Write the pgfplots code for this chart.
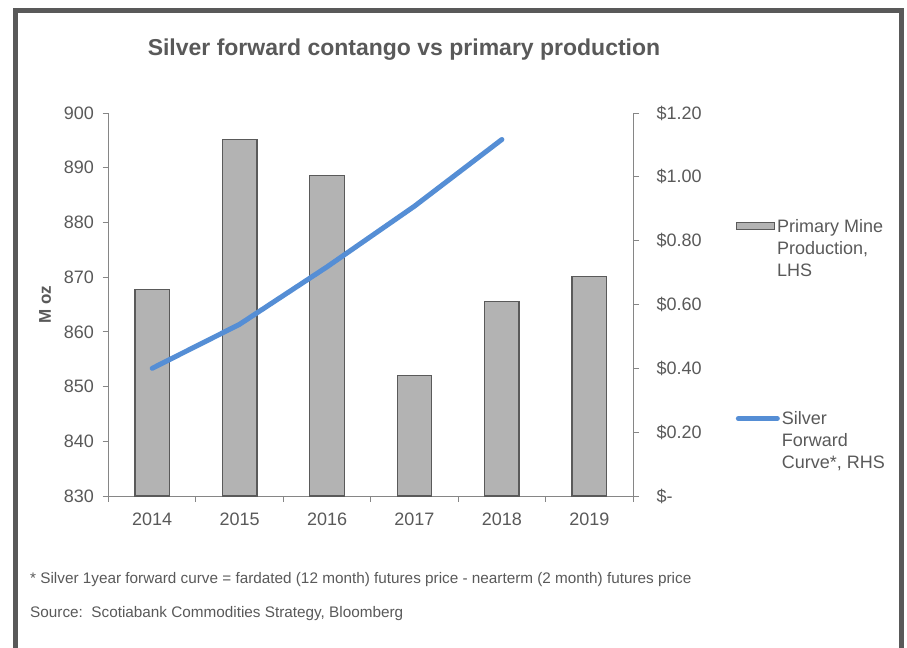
\documentclass[border=0pt]{standalone}
\usepackage{fontspec}
\setmainfont{Liberation Sans}
\usepackage{pgfplots}
\usepackage{pgfplotstable}
\pgfplotsset{compat=1.18}
\definecolor{txt}{HTML}{595959}
\definecolor{axgray}{HTML}{868686}
\definecolor{barfill}{HTML}{B3B3B3}
\definecolor{baredge}{HTML}{5A5A5A}
\definecolor{lineblue}{HTML}{558ED5}
\definecolor{framec}{HTML}{595959}

\pgfplotstableread{
x prod
0 867.8
1 895.1
2 888.6
3 852.0
4 865.5
5 870.1
}\prodtable
\pgfplotstableread{
x curve
0 0.400
1 0.538
2 0.718
3 0.908
4 1.117
}\curvetable

\pgfplotsset{
  common/.style={
    scale only axis, width=524.5bp, height=383bp,
    at={(108.5bp,152bp)}, anchor=south west,
    xmin=-0.5, xmax=5.5,
    axis line style={axgray, line width=0.9bp},
    tick style={axgray, line width=0.9bp},
    tick align=outside,
    major tick length=6bp, minor tick length=6bp,
    ticklabel style={text=txt, font=\fontsize{18bp}{21bp}\selectfont},
    /pgf/number format/assume math mode=true,
    clip=false,
  }
}

\begin{document}
\begin{tikzpicture}[font=\fontsize{18bp}{21bp}\selectfont]
\useasboundingbox (0,0) rectangle (907bp,648bp);
\begin{scope}
\clip (0,0) rectangle (907bp,648bp);
\draw[framec, line width=5bp] (15.5bp,-20bp) -- (15.5bp,637.5bp) -- (901.5bp,637.5bp) -- (901.5bp,-20bp);
\end{scope}

\node[text=txt, font=\fontsize{23bp}{27bp}\selectfont\bfseries] at (404bp,598bp) {Silver forward contango vs primary production};

\begin{axis}[common,
  axis x line*=bottom, axis y line*=left,
  ymin=830, ymax=900, ytick={830,840,...,900},
  xtick={0,...,5}, xticklabels={2014,2015,2016,2017,2018,2019},
  xticklabel style={yshift=-7bp},
  yticklabel style={xshift=-5bp},
  major x tick style={draw=none},
  minor xtick={-0.5,0.5,...,5.5},
  ylabel={M oz},
  ylabel style={at={(axis description cs:-0.121,0.5)}, anchor=center, text=txt, font=\fontsize{17bp}{20bp}\selectfont\bfseries},
  legend style={at={(1.19,0.734)}, anchor=north west, draw=none, fill=none,
    font=\fontsize{18bp}{22bp}\selectfont, text=txt, cells={anchor=west, align=left}},
]
\addplot[ybar, bar width=0.395, fill=barfill, draw=baredge, line width=1.3bp,
  legend image code/.code={\draw[fill=barfill, draw=baredge, line width=1.3bp] (0bp,18.5bp) rectangle (38bp,25.5bp);}]
  table[x=x,y=prod]{\prodtable};
\addlegendentry{Primary Mine\\Production,\\LHS}
\end{axis}

\begin{axis}[common,
  axis x line=none, axis y line*=right,
  ymin=0, ymax=1.2, ytick={0,0.2,...,1.2},
  yticklabels={\$-,\$0.20,\$0.40,\$0.60,\$0.80,\$1.00,\$1.20},
  yticklabel style={anchor=west, xshift=14bp},
  legend style={at={(1.19,0.232)}, anchor=north west, draw=none, fill=none,
    font=\fontsize{18bp}{22bp}\selectfont, text=txt, cells={anchor=west, align=left}},
]
\addplot[lineblue, line width=5bp, line cap=round, line join=round,
  legend image code/.code={\draw[lineblue, line width=5bp, line cap=round] (-2bp,22bp) -- (37bp,22bp);}]
  table[x=x,y=curve]{\curvetable};
\addlegendentry{Silver\\Forward\\Curve*, RHS}
\end{axis}

\node[anchor=west, text=txt, font=\fontsize{15.3bp}{18bp}\selectfont, inner sep=0pt] at (30bp,68bp) {* Silver 1year forward curve = fardated (12 month) futures price - nearterm (2 month) futures price};
\node[anchor=west, text=txt, font=\fontsize{15.3bp}{18bp}\selectfont, inner sep=0pt] at (30bp,34bp) {Source:\ \ Scotiabank Commodities Strategy, Bloomberg};
\end{tikzpicture}
\end{document}
